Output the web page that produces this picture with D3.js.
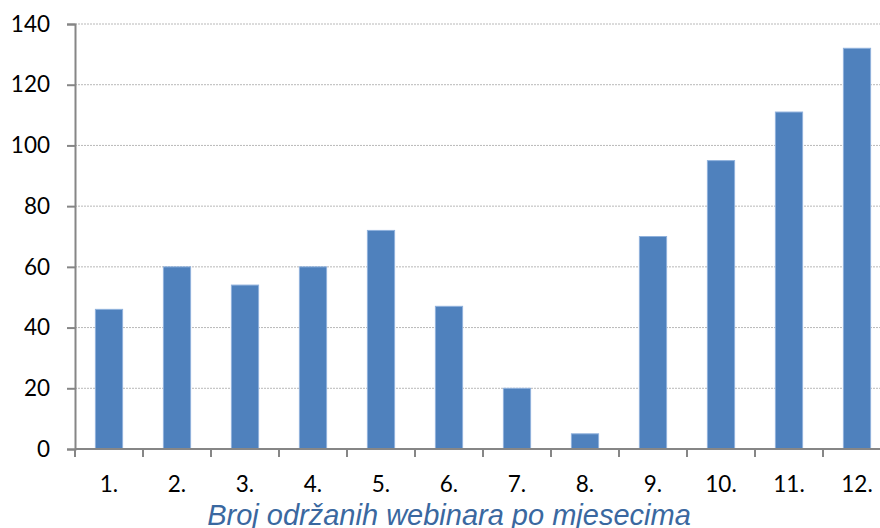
<!DOCTYPE html>
<html>
<head>
<meta charset="utf-8">
<script src="https://cdn.jsdelivr.net/npm/d3@7"></script>
<style>
  html, body { margin: 0; padding: 0; background: #ffffff; }
  svg { display: block; }
</style>
</head>
<body>
<svg id="chart" width="880" height="528"></svg>
<script>
const categories = ["1.", "2.", "3.", "4.", "5.", "6.", "7.", "8.", "9.", "10.", "11.", "12."];
const values = [46, 60, 54, 60, 72, 47, 20, 5, 70, 95, 111, 132];
const yTicks = [0, 20, 40, 60, 80, 100, 120, 140];
const title = "Broj održanih webinara po mjesecima";

const svg = d3.select("#chart");
const plotLeft = 75, plotRight = 891, plotTop = 24, plotBottom = 449;
const labelFont = "Lato, 'Open Sans', sans-serif";

const x = d3.scaleBand().domain(categories).range([plotLeft, plotRight]).paddingInner(0.6).paddingOuter(0.3);
const y = d3.scaleLinear().domain([0, 140]).range([plotBottom, plotTop]);

// gridlines
svg.append("g").selectAll("line").data(yTicks.filter(d => d > 0)).join("line")
  .attr("x1", plotLeft).attr("x2", plotRight)
  .attr("y1", d => y(d)).attr("y2", d => y(d))
  .attr("stroke", "#b8b8b8").attr("stroke-width", 1).attr("stroke-dasharray", "2,1");

// bars
svg.append("g").selectAll("rect").data(values).join("rect")
  .attr("x", (d, i) => x(categories[i]))
  .attr("y", d => y(d))
  .attr("width", x.bandwidth())
  .attr("height", d => y(0) - y(d))
  .attr("fill", "#4f81bd")
  .attr("stroke", "#8fb1dc").attr("stroke-width", 1);

// y axis
const yAxis = d3.axisLeft(y).tickValues(yTicks).tickSize(8).tickPadding(17).tickFormat(d3.format("d"));
const gy = svg.append("g").attr("transform", `translate(${plotLeft},0)`).call(yAxis);
gy.select(".domain").attr("stroke", "#868686").attr("stroke-width", 2);
gy.selectAll(".tick line").attr("stroke", "#868686").attr("stroke-width", 2);
gy.selectAll(".tick text").attr("font-family", labelFont).attr("font-size", 22.5).attr("fill", "#000");

// x axis line
svg.append("line").attr("x1", plotLeft).attr("x2", plotRight).attr("y1", plotBottom).attr("y2", plotBottom)
  .attr("stroke", "#868686").attr("stroke-width", 2);
// x ticks at band boundaries
const step = x.step();
const bounds = categories.map(c => x(c) + x.bandwidth() / 2 - step / 2);
bounds.push(x(categories[categories.length - 1]) + x.bandwidth() / 2 + step / 2);
svg.append("g").selectAll("line").data(bounds).join("line")
  .attr("x1", d => d).attr("x2", d => d)
  .attr("y1", plotBottom).attr("y2", plotBottom + 8)
  .attr("stroke", "#868686").attr("stroke-width", 2);
// x labels
svg.append("g").selectAll("text").data(categories).join("text")
  .attr("x", d => x(d) + x.bandwidth() / 2)
  .attr("y", 491.5)
  .attr("text-anchor", "middle")
  .attr("font-family", labelFont).attr("font-size", 22.5).attr("fill", "#000")
  .text(d => d);

// title
svg.append("text")
  .attr("x", 449).attr("y", 525)
  .attr("text-anchor", "middle")
  .attr("font-family", "'Liberation Sans', Arial, sans-serif")
  .attr("font-style", "italic")
  .attr("font-size", 29)
  .attr("fill", "#3a68a0")
  .text(title);
</script>
</body>
</html>
